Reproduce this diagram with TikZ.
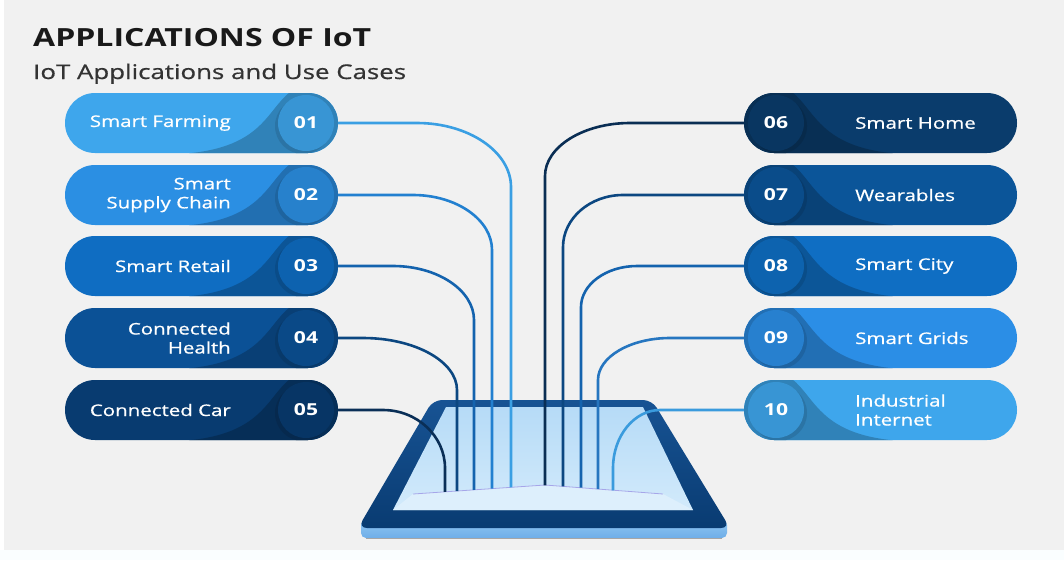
\documentclass[tikz,border=0pt]{standalone}
\usepackage{fontspec}
\setmainfont{Open Sans}[FakeStretch=1.28]
\newfontfamily\semib{Open Sans}[FakeStretch=1.28, FakeBold=0.7]
\usetikzlibrary{shapes.misc}

\definecolor{bg}{HTML}{F1F1F1}
\definecolor{c1}{HTML}{3EA6EC}
\definecolor{c2}{HTML}{2B8FE3}
\definecolor{c3}{HTML}{0F6DC2}
\definecolor{c4}{HTML}{0B5196}
\definecolor{c5}{HTML}{083B70}
\definecolor{c6}{HTML}{0A3C6C}
\definecolor{c7}{HTML}{0B5599}
\definecolor{c8}{HTML}{0F6EC3}
\definecolor{c9}{HTML}{2B8EE6}
\definecolor{c10}{HTML}{3EA6EC}
\definecolor{w1}{HTML}{3A9FE3}
\definecolor{w2}{HTML}{2280D0}
\definecolor{w3}{HTML}{1463AE}
\definecolor{w4}{HTML}{0C4781}
\definecolor{w5}{HTML}{0A2F57}
\definecolor{w6}{HTML}{0A2E54}
\definecolor{w7}{HTML}{0C4781}
\definecolor{w8}{HTML}{1463AE}
\definecolor{w9}{HTML}{2676C0}
\definecolor{w10}{HTML}{3A9BDD}
\definecolor{frame}{HTML}{0B4A8E}
\definecolor{scrtop}{HTML}{B6DBF7}
\definecolor{scrbot}{HTML}{D2EAFB}
\definecolor{fold}{HTML}{DDEFFC}
\definecolor{basetop}{HTML}{8FC6F2}
\definecolor{basebot}{HTML}{6FAEE8}

\tikzset{
  pill/.style={rounded rectangle, minimum width=273pt, minimum height=60pt, inner sep=0pt, draw=none},
  numc/.style={circle, minimum size=56pt, inner sep=0pt, text=white, font=\bfseries\fontsize{16.5}{16}\selectfont},
  lbl/.style={text=white, inner sep=0pt, font=\semib\fontsize{16}{19}\selectfont},
  wire/.style={line width=2.6pt},
}

\begin{document}
\begin{tikzpicture}[x=1pt,y=-1pt]
\fill[bg] (0,0) rectangle (1064,560);
\fill[white] (0,0) rectangle (4,560);
\fill[white!70!cyan!6] (0,550) rectangle (1064,560);
\useasboundingbox (0,0) rectangle (1064,560);

% headings
\node[anchor=base west, inner sep=0pt, text=black!90, font=\bfseries\fontsize{25}{25}\selectfont] (title) at (33,46) {APPLICATIONS OF IoT};
\node[anchor=base west, inner sep=0pt, text=black!80, font=\semib\fontsize{20.2}{21}\selectfont] (subtitle) at (33,79) {IoT Applications and Use Cases};

% left column
\foreach \i/\y/\c/\t in {01/123/c1/{Smart Farming}, 02/195/c2/{Smart\\Supply Chain}, 03/266/c3/{Smart Retail}, 04/338/c4/{Connected\\Health}, 05/410/c5/{Connected Car}}{
  \node[pill, fill=\c] (p\i) at (201.5,\y) {};
  \begin{scope}
    \clip[rounded corners=30pt] (65,{\y-30}) rectangle (338,{\y+30});
    \fill[\c!78!black] (290,{\y-31}) .. controls (266,{\y-12}) and (262,{\y+26}) .. (180,{\y+31}) -- (340,{\y+31}) -- (340,{\y-31}) -- cycle;
    \fill[\c!70!black] (303,{\y+3}) circle (28);
  \end{scope}
  \node[numc, fill=\c!90!black] (n\i) at (306,\y) {\i};
  \node[lbl, anchor=east, align=right] (t\i) at (231,\y) {\t};
}

% right column
\foreach \i/\y/\c/\t in {06/123/c6/{Smart Home}, 07/195/c7/{Wearables}, 08/266/c8/{Smart City}, 09/338/c9/{Smart Grids}, 10/410/c10/{Industrial\\Internet}}{
  \node[pill, fill=\c] (p\i) at (880.5,\y) {};
  \begin{scope}
    \clip[rounded corners=30pt] (744,{\y-30}) rectangle (1017,{\y+30});
    \fill[\c!78!black] (792,{\y-31}) .. controls (816,{\y-12}) and (820,{\y+26}) .. (902,{\y+31}) -- (742,{\y+31}) -- (742,{\y-31}) -- cycle;
    \fill[\c!70!black] (779,{\y+3}) circle (28);
  \end{scope}
  \node[numc, fill=\c!90!black] (n\i) at (776,\y) {\i};
  \node[lbl, anchor=west, align=left] (t\i) at (855,\y) {\t};
}

% tablet
\shade[top color=basetop, bottom color=basebot, rounded corners=5pt] (361,520) rectangle (727,538);
\draw[black!35, line width=0.8pt] (366,538.5) -- (722,538.5);
\shade[top color=frame!95!white, bottom color=frame!80!black, rounded corners=9pt] (433,400) -- (652,400) -- (730,528) -- (358,528) -- cycle;
\shade[top color=scrtop, bottom color=scrbot] (446,407) -- (643,407) -- (693,510) -- (393,510) -- cycle;
\fill[fold] (393,510) -- (413,494) -- (545,485) -- (663,494) -- (693,510) -- cycle;
\draw[black!25!blue!35, line width=0.8pt] (413,494) -- (545,485) -- (663,494);

% wire ends on the fold
\foreach \n/\x/\e in {01/511/487.3, 02/492/488.6, 03/474/489.8, 04/457/491, 05/445/491.8, 06/545/485.3, 07/563/486.4, 08/581/487.7, 09/598/489, 10/613/490.3}{
  \coordinate (e\n) at (\x,\e);
}

% left wires
\foreach \i/\y/\w/\xs/\xv/\ys in {01/123/w1/417/511/187, 02/195/w2/413/492/250, 03/266/w3/393/474/320, 04/338/w4/363/457/390, 05/410/w5/383/445/468}{
  \draw[wire, \w] (p\i.east) -- (\xs,\y) .. controls ({\xs+0.55*(\xv-\xs)},\y) and (\xv,{\y+0.45*(\ys-\y)}) .. (\xv,\ys) -- (e\i);
}
% right wires
\foreach \i/\y/\w/\xs/\xv/\ys in {06/123/w6/630/545/176, 07/195/w7/623/563/247, 08/266/w8/637/581/307, 09/338/w9/670/598/380, 10/410/w10/660/613/468}{
  \draw[wire, \w] (p\i.west) -- (\xs,\y) .. controls ({\xs-0.55*(\xs-\xv)},\y) and (\xv,{\y+0.45*(\ys-\y)}) .. (\xv,\ys) -- (e\i);
}
\end{tikzpicture}
\end{document}
